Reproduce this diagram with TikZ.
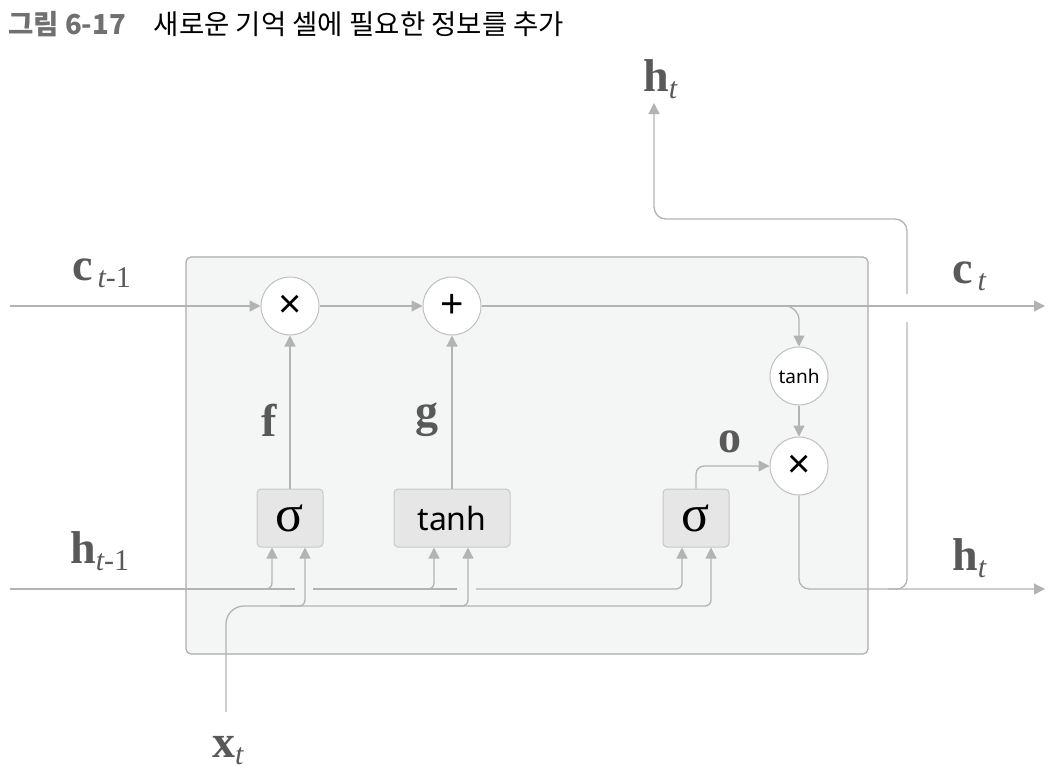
\documentclass[tikz,border=0pt]{standalone}
\usepackage{fontspec}
\usepackage{xcolor}
\usepackage{tikz}
\usetikzlibrary{arrows.meta}
\newfontfamily\krfont{Noto Sans CJK KR}
\newfontfamily\gatefont{Noto Sans}
\newfontfamily\opfont{Liberation Sans}
\newfontfamily\sigfont{Liberation Serif}
\newfontfamily\labfont{Liberation Serif}
\newcommand{\vlab}[3]{{\bfseries #1}\raisebox{-7pt}{\fontsize{30}{30}\selectfont{\itshape #2}#3}}
\definecolor{wiregray}{HTML}{B3B3B3}
\definecolor{labgray}{HTML}{595959}
\definecolor{titlegray}{HTML}{707070}
\definecolor{cellfill}{HTML}{F4F6F5}
\definecolor{gatefill}{HTML}{E6E6E6}
\tikzstyle{cell} = [rectangle, draw=black!33, fill=cellfill, rounded corners=5pt, line width=1.2pt]
\tikzstyle{gate} = [rectangle, draw=black!22, fill=gatefill, rounded corners=4pt, minimum height=58pt, line width=1pt, font=\gatefont\fontsize{32}{34}\selectfont]
\tikzstyle{op} = [circle, draw=black!25, fill=white, minimum size=58pt, inner sep=0pt, line width=1pt, font=\opfont\fontsize{40}{40}\selectfont]
\tikzstyle{lab} = [text=labgray, font=\labfont\fontsize{46}{48}\selectfont, inner sep=0pt]
\tikzstyle{wire} = [draw=wiregray, line width=1.3pt]
\tikzstyle{line} = [wire, -{Triangle[length=11pt,width=11pt]}]

\begin{document}
\begin{tikzpicture}[x=1pt, y=-1pt]
\useasboundingbox (0,0) rectangle (1056,772);

\node [anchor=west, inner sep=0pt] (title) at (8,24) {\krfont\fontsize{27.5}{30}\selectfont{\bfseries\color{titlegray}그림 6-17}\hspace{28pt}새로운 기억 셀에 필요한 정보를 추가};

\node [cell, minimum width=682pt, minimum height=397pt] (cell) at (527,455.5) {};

\node [op] (mulf) at (290,306) {×};
\node [op] (plus) at (452,306) {+};
\node [op, font=\gatefont\fontsize{19}{20}\selectfont] (tanhc) at (799,376) {tanh};
\node [op] (mulo) at (799,466) {×};

\node [gate, minimum width=66pt] (sigf) at (290,518) {\sigfont\fontsize{52}{52}\selectfont σ};
\node [gate, minimum width=116pt] (tanhg) at (452,518) {tanh};
\node [gate, minimum width=66pt] (sigo) at (696,518) {\sigfont\fontsize{52}{52}\selectfont σ};

\coordinate (cin) at (10,306);
\coordinate (cout) at (1045,306);
\coordinate (cbr) at (780,306);
\coordinate (hin) at (10,589);
\coordinate (hout) at (1045,589);
\coordinate (hgapa) at (295,589);
\coordinate (hgapb) at (313,589);
\coordinate (hgapc) at (457,589);
\coordinate (hgapd) at (476,589);
\coordinate (hbr) at (888,589);
\coordinate (hup) at (907,322);
\coordinate (hupb) at (907,294);
\coordinate (hleft) at (654,219);
\coordinate (htop) at (654,103);
\coordinate (xin) at (226,712);
\coordinate (xbus) at (280,606);
\coordinate (xbr) at (440,606);

% cell state
\path [line] (cin) -- (mulf);
\path [line] (mulf) -- (plus);
\path [line] (plus) -- (cout);
\path [line, rounded corners=14pt] (cbr) -| (tanhc);
\path [line] (tanhc) -- (mulo);

% gates
\path [line] (sigf) -- (mulf);
\path [line] (tanhg) -- (plus);
\path [line, rounded corners=8pt] (sigo.north) |- (mulo);

% hidden state out
\path [line, rounded corners=10pt] (mulo) |- (hout);
\path [wire, rounded corners=10pt] (hbr) -| (hup);
\path [line, rounded corners=12pt] (hupb) |- (hleft) -- (htop);

% h_{t-1} bus
\path [wire] (hin) -- (hgapa);
\path [line, rounded corners=6pt] (hin) -| ([xshift=-18pt]sigf.south);
\path [wire] (hgapb) -- (hgapc);
\path [line, rounded corners=6pt] (hgapb) -| ([xshift=-18pt]tanhg.south);
\path [line, rounded corners=6pt] (hgapd) -| ([xshift=-14pt]sigo.south);

% x_t bus
\path [line] (xin) [rounded corners=18pt] |- (xbus) [rounded corners=6pt] -| ([xshift=15pt]sigo.south);
\path [line, rounded corners=6pt] (xbus) -| ([xshift=15pt]sigf.south);
\path [line, rounded corners=6pt] (xbr) -| ([xshift=16pt]tanhg.south);

\node [lab, anchor=base west] (cprev) at (72,280) {\vlab{c}{\,t}{-1}};
\node [lab, anchor=base west] (hprev) at (70,563) {\vlab{h}{t}{-1}};
\node [lab, anchor=base west] (cnext) at (952,283) {\vlab{c}{\,t}{}};
\node [lab, anchor=base west] (hnext) at (952,570) {\vlab{h}{t}{}};
\node [lab, anchor=base west] (htopl) at (643,91) {\vlab{h}{t}{}};
\node [lab, anchor=base west] (xlab) at (212,757) {\vlab{x}{t}{}};
\node [lab] (flab) at (269,420) {\bfseries f};
\node [lab] (glab) at (427,420) {\bfseries g};
\node [lab] (olab) at (730,442) {\bfseries o};

\end{tikzpicture}
\end{document}
